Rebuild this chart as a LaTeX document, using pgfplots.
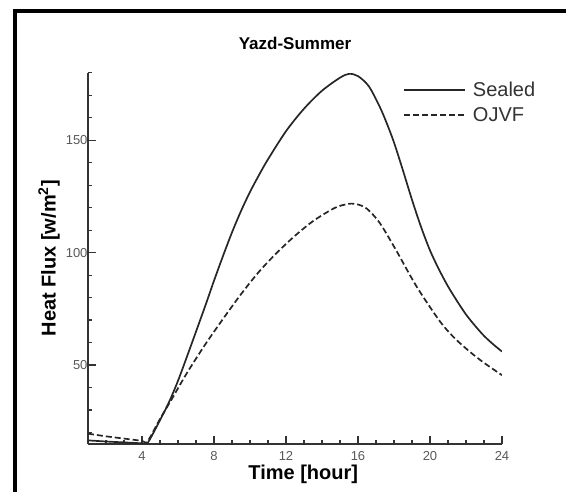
\documentclass[border=0pt]{standalone}
\usepackage{fontspec}
\setmainfont{Liberation Sans}
\usepackage{pgfplots}
\pgfplotsset{compat=1.18}

\begin{document}
\begin{tikzpicture}[x=1pt,y=1pt]
\useasboundingbox (0,0) rectangle (566,491);
\fill[white] (0,0) rectangle (566,491);
% outer frame of the figure
\draw[line width=4pt] (15,-10) -- (15,480) -- (600,480);

\begin{axis}[
  at={(88pt,47.25pt)}, anchor=south west,
  scale only axis, width=414pt, height=371pt,
  xmin=1, xmax=24, ymin=15, ymax=180,
  axis x line*=bottom, axis y line*=left,
  axis line style={line width=2pt, black!80},
  xtick={4,8,12,16,20,24},
  minor xtick={2,3,5,6,7,9,10,11,13,14,15,17,18,19,21,22,23},
  ytick={50,100,150},
  minor ytick={20,30,40,60,70,80,90,110,120,130,140,160,170,180},
  tick align=inside,
  major tick length=8pt, minor tick length=4pt,
  every tick/.style={black!80, line width=1.2pt},
  /pgf/number format/assume math mode=true,
  ticklabel style={font=\fontsize{13}{13}\selectfont, text=black!65},
  xticklabel style={yshift=-4pt},
  yticklabel style={xshift=3pt},
  title={Yazd-Summer},
  title style={font=\fontsize{17}{17}\selectfont\bfseries, at={(axis description cs:0.5,1.064)}, anchor=center},
  xlabel={Time [hour]},
  xlabel style={font=\fontsize{20}{20}\selectfont\bfseries, at={(axis description cs:0.52,-0.0815)}, anchor=center},
  ylabel={Heat Flux [w/m$^{\mathbf{2}}$]},
  ylabel style={font=\fontsize{20}{20}\selectfont\bfseries, at={(axis description cs:-0.094,0.5)}, anchor=center, rotate=0},
  legend style={draw=none, fill=none, at={(axis description cs:0.761,0.978)}, anchor=north west,
    font=\fontsize{20}{20}\selectfont, text=black!80, inner sep=0pt, row sep=7pt,
    nodes={inner xsep=7pt, inner ysep=1pt}},
  legend cell align=left,
  legend image code/.code={\draw[#1] (0pt,0pt) -- (61pt,0pt);},
]
\addplot[smooth, tension=0.5, line width=1.7pt, black!85] coordinates {
(1,16.5) (2,16.0) (3,15.6) (4,15.2) (4.3,15.2) (5,25.5) (5.5,33.5) (6,43)
(6.6,56) (7.5,76) (8,87.5) (8.5,98.5) (9,109) (9.5,118.5) (10,127)
(10.5,134.5) (11,141.5) (12,154) (13,164) (14,172) (15,177.8)
(15.5,179.5) (16,178.5) (16.6,174) (17.2,165) (17.6,157.5) (18,149)
(18.5,136.5) (19,123.5) (19.5,111.5) (20,101) (20.5,92.5) (21,85)
(21.5,78.5) (22,72.5) (22.5,67.5) (23,63) (23.5,59.3) (24,56)
};
\addlegendentry{Sealed}
\addplot[smooth, tension=0.5, line width=1.7pt, black!85, dash pattern=on 6pt off 3pt] coordinates {
(1,19.5) (2,18.3) (3,17.3) (4,16.3) (4.3,16) (5,26) (5.7,35.5) (6.5,46.5)
(7.5,59) (8.5,70.5) (9.5,81.5) (10.5,91.5) (11.5,100) (12.5,107.5)
(13.5,114) (14.5,119) (15,120.8) (15.6,121.8) (16,121.4) (16.5,119.5)
(17.2,113.3) (18.1,101.3) (19.25,85) (20.5,70) (21.3,62.5) (22.2,56)
(23,51) (24,45.5)
};
\addlegendentry{OJVF}
\end{axis}
\end{tikzpicture}
\end{document}
